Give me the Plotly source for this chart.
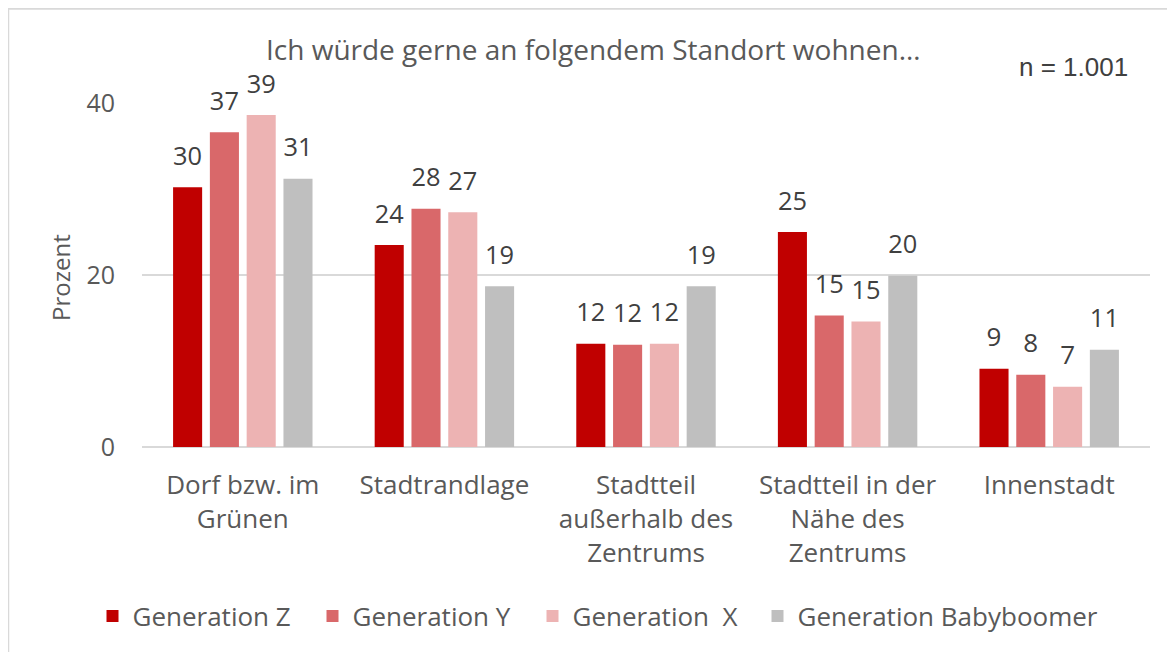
import plotly.graph_objects as go

categories = ["Dorf bzw. im<br>Grünen", "Stadtrandlage", "Stadtteil<br>außerhalb des<br>Zentrums",
              "Stadtteil in der<br>Nähe des<br>Zentrums", "Innenstadt"]
series_names = ["Generation Z", "Generation Y", "Generation\u00a0\u00a0X", "Generation Babyboomer"]
gen_z = [30.2, 23.5, 12.0, 25.0, 9.1]
gen_y = [36.6, 27.7, 11.9, 15.3, 8.4]
gen_x = [38.6, 27.3, 12.0, 14.6, 7.0]
gen_bb = [31.2, 18.7, 18.7, 19.9, 11.3]
colors = ["#C00000", "#D9686A", "#EDB3B3", "#BFBFBF"]
legend_ids = ["legend", "legend", "legend", "legend2"]
y_ticks = [0, 20, 40]
label_pad = 1.35  # gap (in axis units) between bar top and its value label

# page has an 8px body margin; target positions below are given in page pixels
OFF = 8
W, H = 1167, 644
L = 142 - OFF
R = W - (1150 - OFF)
T = 102.7 - OFF
B = H - (447.5 - OFF)

def px_x(px):
    return (px - OFF - L) / (W - L - R)

def px_y(py):
    return (H - B - (py - OFF)) / (H - B - T)

fig = go.Figure()
for i, (name, vals, col, lg) in enumerate(zip(series_names, [gen_z, gen_y, gen_x, gen_bb], colors, legend_ids)):
    fig.add_trace(go.Bar(
        x=categories, y=vals, name=name, offsetgroup=str(i), legend=lg,
        marker=dict(color=col, line=dict(width=0)),
        hoverinfo="skip",
    ))
for i, vals in enumerate([gen_z, gen_y, gen_x, gen_bb]):
    fig.add_trace(go.Bar(
        x=categories, y=[label_pad] * len(vals), base=vals, offsetgroup=str(i),
        marker=dict(color="rgba(0,0,0,0)", line=dict(width=0)),
        text=[f"{round(v):d}" for v in vals],
        textposition="outside",
        textfont=dict(family="Open Sans", size=26, color="#404040"),
        cliponaxis=False, showlegend=False, hoverinfo="skip",
    ))

legend_font = dict(family="Open Sans", size=26, color="#595959")
fig.update_layout(
    width=W, height=H,
    margin=dict(l=L, r=R, t=T, b=B, autoexpand=False),
    paper_bgcolor="white", plot_bgcolor="white",
    barmode="group", bargap=0.27, bargroupgap=0.21,
    font=dict(family="Open Sans", color="#595959"),
    showlegend=True,
    legend=dict(orientation="h", x=px_x(115.5 - 23), xanchor="left", y=px_y(617), yanchor="middle",
                entrywidth=175, entrywidthmode="pixels",
                font=legend_font, traceorder="normal",
                itemclick=False, bgcolor="rgba(0,0,0,0)"),
    legend2=dict(orientation="h", x=px_x(780.5 - 23), xanchor="left", y=px_y(617), yanchor="middle",
                 font=legend_font, itemclick=False, bgcolor="rgba(0,0,0,0)"),
    xaxis=dict(showgrid=False, showline=False, ticks="", tickfont=dict(size=26, color="#595959"),
               ticklabelstandoff=20, automargin=False),
    yaxis=dict(range=[0, 40], tickvals=y_ticks, showgrid=True, gridcolor="#D9D9D9", gridwidth=1.5,
               zeroline=True, zerolinecolor="#D9D9D9", zerolinewidth=1.5, showline=False, ticks="",
               tickfont=dict(size=25, color="#595959"), ticklabelstandoff=26, automargin=False),
    annotations=[
        dict(text="Ich würde gerne an folgendem Standort wohnen…", xref="paper", yref="paper",
             x=px_x(593), y=px_y(49), xanchor="center", yanchor="middle", showarrow=False,
             font=dict(family="Open Sans", size=28, color="#595959")),
        dict(text="n = 1.001", xref="paper", yref="paper", x=px_x(1073), y=px_y(67),
             xanchor="center", yanchor="middle", showarrow=False,
             font=dict(family="Liberation Sans", size=26, color="#404040")),
        dict(text="Prozent", xref="paper", yref="paper", x=px_x(61), y=px_y(278), textangle=-90,
             xanchor="center", yanchor="middle", showarrow=False,
             font=dict(family="Open Sans", size=24, color="#595959")),
    ],
    shapes=[
        dict(type="line", xref="paper", yref="paper", x0=px_x(8), x1=px_x(8), y0=px_y(8), y1=px_y(660),
             line=dict(color="#D9D9D9", width=2.5)),
        dict(type="line", xref="paper", yref="paper", x0=px_x(8), x1=px_x(1180), y0=px_y(8), y1=px_y(8),
             line=dict(color="#D9D9D9", width=2.5)),
    ],
)

fig.write_html("out.html")
